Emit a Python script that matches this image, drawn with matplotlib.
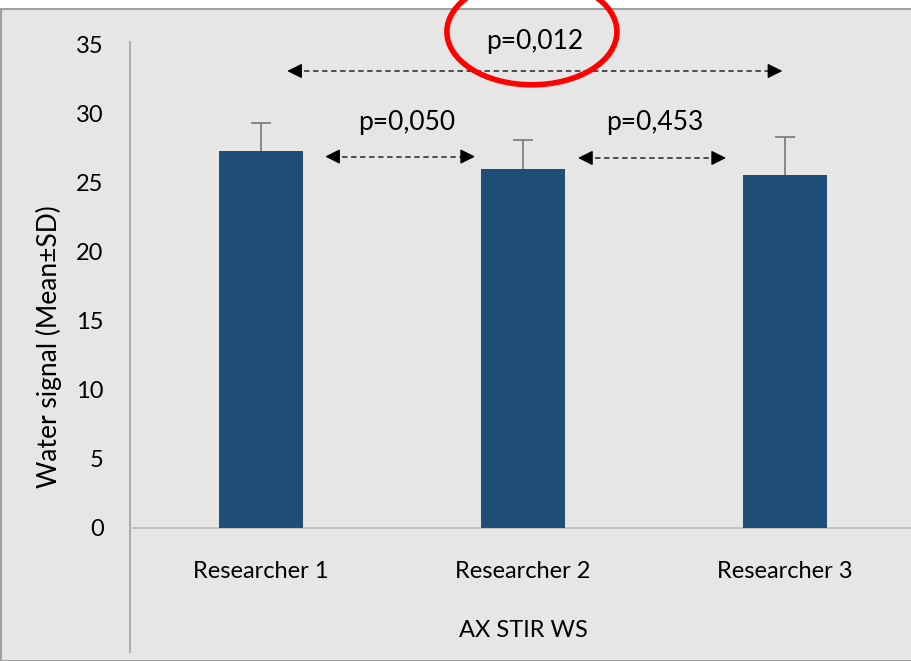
import matplotlib
matplotlib.use("Agg")
import matplotlib.pyplot as plt
from matplotlib.patches import Rectangle, Ellipse

plt.rcParams['font.family'] = ['Lato', 'DejaVu Sans']

# group means and SDs
researchers = ['Researcher 1', 'Researcher 2', 'Researcher 3']
means = [27.3, 26.0, 25.6]
sds = [2.0, 2.1, 2.7]

# pairwise comparisons: (x start, x end, y, label x, label y, text)
comparisons = [
    (0.245, 0.817, 26.9, 0.557, 29.4, 'p=0,050'),
    (1.21, 1.775, 26.8, 1.504, 29.4, 'p=0,453'),
    (0.10, 1.99, 33.1, 1.046, 35.2, 'p=0,012'),
]

bar_color = '#1f4e79'
panel_color = '#e6e6e6'

fig = plt.figure(figsize=(9.12, 6.61), dpi=100)
fig.patch.set_facecolor('white')

# grey chart panel with thin border
panel = Rectangle((0.001, 0.0), 1.2, 652 / 661, transform=fig.transFigure,
                  facecolor=panel_color, edgecolor='#a0a0a0', linewidth=1.5, zorder=-1)
fig.patches.append(panel)

ax = fig.add_axes([130 / 912, 9 / 661, 786 / 912, 610 / 661])
ax.set_facecolor('none')
ax.set_xlim(-0.5, 2.5)
ax.set_ylim(-8.99, 35.2)

x = list(range(len(researchers)))
ax.bar(x, means, width=0.32, color=bar_color, zorder=3)
eb = ax.errorbar(x, means, yerr=[[0] * 3, sds], fmt='none', ecolor='#7f7f7f',
                 elinewidth=1.3, capsize=7, capthick=1.3, zorder=2)
# only the upper whisker is shown
eb[1][0].set_visible(False)

ax.set_yticks(range(0, 36, 5))
ax.set_xticks(x)
ax.set_xticklabels(researchers)
ax.tick_params(axis='both', length=0, labelsize=17, colors='black')
ax.tick_params(axis='x', pad=24)
ax.tick_params(axis='y', pad=19)

for s in ['top', 'right']:
    ax.spines[s].set_visible(False)
ax.spines['bottom'].set_position(('data', 0))
ax.spines['bottom'].set_color('#bfbfbf')
ax.spines['bottom'].set_linewidth(1.3)
ax.spines['left'].set_color('#a6a6a6')
ax.spines['left'].set_linewidth(1.3)

ax.set_ylabel('Water signal (Mean±SD)', fontsize=19, labelpad=10)
ax.text(1.0, -7.4, 'AX STIR WS', ha='center', va='center', fontsize=17)

# dashed comparison lines with solid arrow heads
head = dict(arrowstyle='-|>,head_length=0.9,head_width=0.45', color='black',
            lw=1, shrinkA=0, shrinkB=0)
for x0, x1, y, tx, ty, label in comparisons:
    ax.plot([x0 + 0.03, x1 - 0.03], [y, y], color='#404040', lw=1.3,
            linestyle=(0, (3, 2)), zorder=4)
    ax.annotate('', xy=(x0, y), xytext=(x0 + 0.035, y), arrowprops=head, zorder=5)
    ax.annotate('', xy=(x1, y), xytext=(x1 - 0.035, y), arrowprops=head, zorder=5)
    ax.text(tx, ty, label, ha='center', va='center', fontsize=19, zorder=6)

# red ring around the significant p-value
ring = Ellipse((1.034, 35.94), 0.649, 7.68, fill=False, edgecolor='#ff0000',
               linewidth=4, clip_on=False, zorder=7)
ax.add_patch(ring)

fig.savefig('out.png', dpi=100)
